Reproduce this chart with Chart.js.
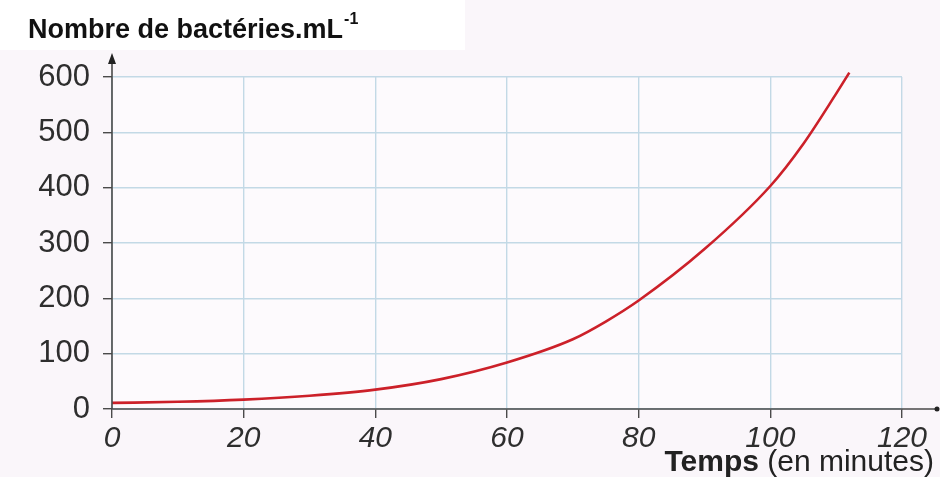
<!DOCTYPE html>
<html>
<head>
<meta charset="utf-8">
<script src="https://cdn.jsdelivr.net/npm/chart.js@4.4.1/dist/chart.umd.min.js"></script>
<style>
  html, body { margin: 0; padding: 0; background: #faf6fa; }
  #wrap { width: 940px; height: 477px; position: relative; }
</style>
</head>
<body>
<div id="wrap"><canvas id="c" width="940" height="477"></canvas></div>
<script>
// ---- data ----
const times  = [0, 10, 20, 30, 40, 50, 60, 70, 75, 80, 90, 100, 105, 110, 112];
const counts = [11, 13, 17, 24, 35, 54, 84, 126, 158, 196, 289, 403, 479, 570, 608];
const xTicks = [0, 20, 40, 60, 80, 100, 120];
const yTicks = [0, 100, 200, 300, 400, 500, 600];
const yTitle = "Nombre de bactéries.mL";
const yTitleSup = "-1";
const xTitleBold = "Temps";
const xTitleRest = " (en minutes)";

const points = times.map((t, i) => ({ x: t, y: counts[i] }));

const decor = {
  id: 'decor',
  beforeDraw(chart) {
    const ctx = chart.ctx;
    ctx.save();
    ctx.fillStyle = '#faf6fa';
    ctx.fillRect(0, 0, chart.width, chart.height);
    ctx.fillStyle = '#ffffff';
    ctx.fillRect(0, 0, 465, 50);
    const a = chart.chartArea;
    ctx.fillStyle = '#fdfafd';
    ctx.fillRect(a.left, a.top, a.right - a.left, a.bottom - a.top);
    ctx.restore();
  },
  afterDraw(chart) {
    const ctx = chart.ctx;
    const a = chart.chartArea;
    ctx.save();
    // axes
    ctx.strokeStyle = '#4a4a4a';
    ctx.lineWidth = 1.6;
    ctx.beginPath();
    ctx.moveTo(a.left, a.bottom);
    ctx.lineTo(a.left, a.top - 16);
    ctx.moveTo(a.left, a.bottom);
    ctx.lineTo(chart.width - 4, a.bottom);
    ctx.stroke();
    ctx.fillStyle = '#222';
    ctx.beginPath();
    ctx.moveTo(a.left, a.top - 24);
    ctx.lineTo(a.left - 4, a.top - 13);
    ctx.lineTo(a.left + 4, a.top - 13);
    ctx.closePath();
    ctx.fill();
    ctx.beginPath();
    ctx.arc(chart.width - 3, a.bottom, 2.5, 0, Math.PI * 2);
    ctx.fill();
    // y title with superscript
    ctx.fillStyle = '#111';
    ctx.textBaseline = 'alphabetic';
    ctx.textAlign = 'left';
    ctx.font = 'bold 27px "Liberation Sans", Arial, sans-serif';
    ctx.fillText(yTitle, 28, 38);
    const w = ctx.measureText(yTitle).width;
    ctx.font = 'bold 16px "Liberation Sans", Arial, sans-serif';
    ctx.fillText(yTitleSup, 28 + w + 1, 24);
    // x title
    ctx.fillStyle = '#222';
    ctx.font = '30px "Liberation Sans", Arial, sans-serif';
    const wr = ctx.measureText(xTitleRest).width;
    ctx.textAlign = 'right';
    ctx.fillText(xTitleRest, 934, 471);
    ctx.font = 'bold 30px "Liberation Sans", Arial, sans-serif';
    ctx.fillText(xTitleBold, 934 - wr, 471);
    ctx.restore();
  }
};

new Chart(document.getElementById('c'), {
  type: 'line',
  data: {
    datasets: [{
      data: points,
      borderColor: '#cc2029',
      borderWidth: 2.6,
      pointRadius: 0,
      fill: false,
      clip: false,
      cubicInterpolationMode: 'monotone'
    }]
  },
  options: {
    responsive: false,
    animation: false,
    layout: { padding: { top: 77, right: 38, left: 0, bottom: 0 } },
    plugins: { legend: { display: false }, tooltip: { enabled: false }, title: { display: false } },
    scales: {
      x: {
        type: 'linear', min: 0, max: 120,
        afterBuildTicks(s) { s.ticks = xTicks.map(v => ({ value: v })); },
        afterFit(s) { s.height = 68; },
        border: { display: false },
        grid: { color: '#c3d9e6', lineWidth: 1.4, tickColor: '#4a4a4a', tickLength: 9, drawTicks: true },
        ticks: {
          color: '#2e2e2e', padding: 3,
          font: { family: '"Liberation Sans", Arial, sans-serif', size: 30, style: 'italic' }
        }
      },
      y: {
        type: 'linear', min: 0, max: 600,
        afterBuildTicks(s) { s.ticks = yTicks.map(v => ({ value: v })); },
        afterFit(s) { s.width = 112; },
        border: { display: false },
        grid: { color: '#c3d9e6', lineWidth: 1.4, tickColor: '#4a4a4a', tickLength: 9 },
        ticks: {
          color: '#2e2e2e', padding: 13,
          font: { family: '"Liberation Sans", Arial, sans-serif', size: 31 }
        }
      }
    }
  },
  plugins: [decor]
});
</script>
</body>
</html>
